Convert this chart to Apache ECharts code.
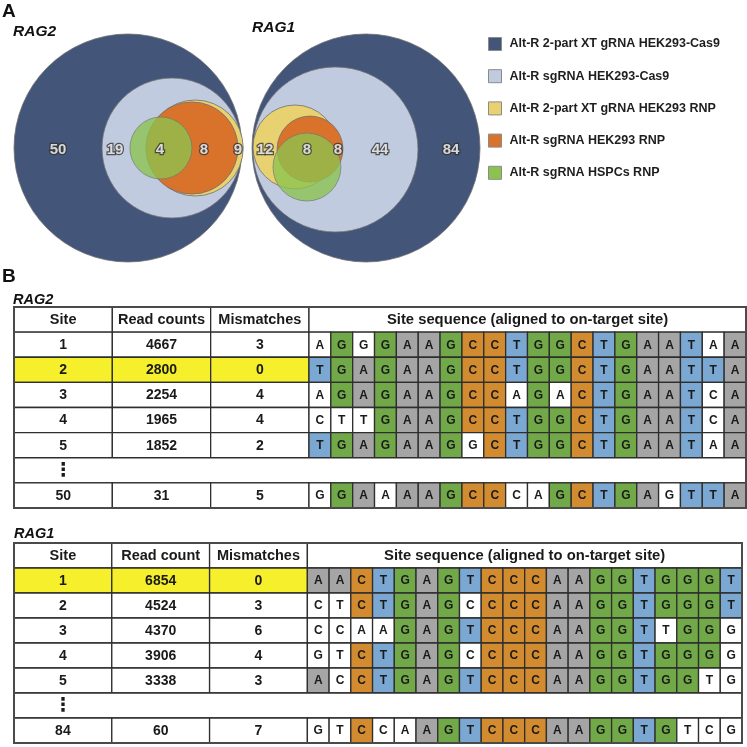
<!DOCTYPE html>
<html><head><meta charset="utf-8">
<script src="https://cdn.jsdelivr.net/npm/echarts@6/dist/echarts.min.js"></script>
<style>html,body{margin:0;padding:0;background:#fff}#c{width:747px;height:747px}</style>
</head><body><div id="c"></div>
<script>
// ---------- DATA ----------
const setNames = ['Alt-R 2-part XT gRNA HEK293-Cas9','Alt-R sgRNA HEK293-Cas9','Alt-R 2-part XT gRNA HEK293 RNP','Alt-R sgRNA HEK293 RNP','Alt-R sgRNA HSPCs RNP'];
const setColors = ['#435579','#c1cbdf','#e8d170','#d9732b','#8cc350'];
const vennGenes = ['RAG2','RAG1'];
const vennOffsets = [0, 2.088];
// circles per set [cx, cy, r] in units of outer-circle radius
const circlesRAG2 = [[0,0,1],[0.386,0,0.614],[0.59,0,0.421],[0.561,0,0.404],[0.289,0,0.272]];
const circlesRAG1 = [[0,0,1],[-0.268,0.013,0.724],[-0.623,-0.009,0.368],[-0.491,0.009,0.289],[-0.518,0.167,0.298]];
const regionCountsRAG2 = [50,19,4,8,9];
const regionXRAG2 = [-0.614,-0.114,0.281,0.667,0.965];
const regionCountsRAG1 = [12,8,8,44,84];
const regionXRAG1 = [-0.886,-0.518,-0.246,0.123,0.746];

const headersRAG2 = ['Site','Read counts','Mismatches','Site sequence (aligned to on-target site)'];
const rag2Sites = ['1','2','3','4','5','50'];
const rag2Reads = ['4667','2800','2254','1965','1852','31'];
const rag2Mism = ['3','0','4','4','2','5'];
const rag2Seqs = ['AGGGAAGCCTGGCTGAATAA','TGAGAAGCCTGGCTGAATTA','AGAGAAGCCAGACTGAATCA','CTTGAAGCCTGGCTGAATCA','TGAGAAGGCTGGCTGAATAA','GGAAAAGCCCAGCTGAGTTA'];
const rag2OnTarget = 1;

const headersRAG1 = ['Site','Read count','Mismatches','Site sequence (aligned to on-target site)'];
const rag1Sites = ['1','2','3','4','5','84'];
const rag1Reads = ['6854','4524','4370','3906','3338','60'];
const rag1Mism = ['0','3','6','4','3','7'];
const rag1Seqs = ['AACTGAGTCCCAAGGTGGGT','CTCTGAGCCCCAAGGTGGGT','CCAAGAGTCCCAAGGTTGGG','GTCTGAGCCCCAAGGTGGGG','ACCTGAGTCCCAAGGTGGTG','GTCCAAGTCCCAAGGTGTCG'];
const rag1OnTarget = 0;

const baseColors = {A:'#a5a5a5', G:'#72a948', C:'#d38b2f', T:'#7ba8d2'};
const FONT = '"Liberation Sans", Arial, Helvetica, sans-serif';

// ---------- VENN ----------
const vennCircles = [circlesRAG2, circlesRAG1];
const series = [];
setNames.forEach((name, si) => {
  series.push({
    type: 'custom', name: name, xAxisIndex: 0, yAxisIndex: 0,
    itemStyle: {color: setColors[si]},
    data: vennCircles.map((cs, vi) => [cs[si][0] + vennOffsets[vi], cs[si][1], cs[si][2]]),
    renderItem: function (params, api) {
      const c = api.coord([api.value(0), api.value(1)]);
      const s = api.size([api.value(2), api.value(2)]);
      return {type: 'circle', shape: {cx: c[0], cy: c[1], r: s[0]},
        style: {fill: setColors[si], stroke: '#6f6f6f', lineWidth: 0.8, opacity: si === 4 ? 0.78 : 1}};
    },
    silent: true, animation: false
  });
});
const labelData = [];
regionCountsRAG2.forEach((v, i) => labelData.push([regionXRAG2[i] + vennOffsets[0], 0.02, v]));
regionCountsRAG1.forEach((v, i) => labelData.push([regionXRAG1[i] + vennOffsets[1], 0.02, v]));
series.push({
  type: 'scatter', name: 'counts', xAxisIndex: 0, yAxisIndex: 0, symbolSize: 0, silent: true, animation: false,
  data: labelData, z: 10,
  label: {show: true, position: 'inside', formatter: p => String(p.value[2]), color: '#fff', fontWeight: 'bold',
    fontSize: 15, fontFamily: FONT, textBorderColor: '#333', textBorderWidth: 2.5}
});

// ---------- TABLES ----------
const colEdges = [0, 4.5, 9, 13.5]; // columns in sequence-cell units
function makeTable(gridIndex, headers, sites, reads, mism, seqs, onTarget) {
  const ref = seqs[onTarget];
  const rows = [[0, 0, 0]];
  for (let i = 0; i < 5; i++) rows.push([i + 1, 1, i]);
  rows.push([6, 2, 0]);
  rows.push([7, 1, 5]);
  rows.push([0, 3, 0]);
  return {
    type: 'custom', xAxisIndex: gridIndex, yAxisIndex: gridIndex, silent: true, animation: false,
    data: rows,
    renderItem: function (params, api) {
      const top = api.value(0), kind = api.value(1), idx = api.value(2);
      const children = [];
      const lineC = '#2e2e2e';
      const rect = (x0, x1, y0, y1, fill, lw, stroke) => {
        const p0 = api.coord([x0, y0]), p1 = api.coord([x1, y1]);
        return {type: 'rect', shape: {x: p0[0], y: p0[1], width: p1[0] - p0[0], height: p1[1] - p0[1]},
          style: {fill: fill, stroke: stroke || lineC, lineWidth: lw === undefined ? 1.3 : lw}};
      };
      const text = (x, y, t, size, extra) => {
        const p = api.coord([x, y]);
        return {type: 'text', x: p[0], y: p[1], style: Object.assign({text: t, fontSize: size, fontWeight: 'bold',
          fontFamily: FONT, fill: '#1a1a1a', align: 'center', verticalAlign: 'middle'}, extra || {})};
      };
      if (kind === 3) {
        children.push(rect(0, 33.5, 0, 8, 'none', 2, '#4a4a4a'));
        return {type: 'group', children: children};
      }
      const y0 = top, y1 = top + 1, ym = top + 0.52;
      if (kind === 0) {
        for (let c = 0; c < 3; c++) {
          children.push(rect(colEdges[c], colEdges[c + 1], y0, y1, '#fff'));
          children.push(text((colEdges[c] + colEdges[c + 1]) / 2, ym, headers[c], 14.5));
        }
        children.push(rect(13.5, 33.5, y0, y1, '#fff'));
        children.push(text(23.5, ym, headers[3], 14.8));
      } else if (kind === 2) {
        children.push(rect(0, 33.5, y0, y1, '#fff'));
        children.push(text(2.25, ym, '\u22EE', 19, {fontFamily: '"DejaVu Sans", sans-serif'}));
      } else {
        const hl = idx === onTarget ? '#f6ef2c' : '#fff';
        const vals = [sites[idx], reads[idx], mism[idx]];
        for (let c = 0; c < 3; c++) {
          children.push(rect(colEdges[c], colEdges[c + 1], y0, y1, hl));
          children.push(text((colEdges[c] + colEdges[c + 1]) / 2, ym, vals[c], 14));
        }
        const s = seqs[idx];
        for (let k = 0; k < s.length; k++) {
          const b = s[k];
          const fill = b === ref[k] ? baseColors[b] : '#fff';
          children.push(rect(13.5 + k, 14.5 + k, y0, y1, fill));
          children.push(text(14 + k, ym, b, 12));
        }
      }
      return {type: 'group', children: children};
    }
  };
}
series.push(makeTable(1, headersRAG2, rag2Sites, rag2Reads, rag2Mism, rag2Seqs, rag2OnTarget));
series.push(makeTable(2, headersRAG1, rag1Sites, rag1Reads, rag1Mism, rag1Seqs, rag1OnTarget));

const hiddenAxis = (min, max, gi, inv) => ({type: 'value', min: min, max: max, gridIndex: gi, inverse: !!inv, show: false});

const option = {
  backgroundColor: '#fff',
  animation: false,
  title: [
    {text: 'A', left: 2, top: 2, textStyle: {fontSize: 19, fontWeight: 'bold', fontFamily: FONT, color: '#111'}},
    {text: vennGenes[0], left: 13, top: 24, textStyle: {fontSize: 15.5, fontWeight: 'bold', fontStyle: 'italic', fontFamily: FONT, color: '#111'}},
    {text: vennGenes[1], left: 252, top: 20, textStyle: {fontSize: 15.5, fontWeight: 'bold', fontStyle: 'italic', fontFamily: FONT, color: '#111'}},
    {text: 'B', left: 2, top: 267, textStyle: {fontSize: 19, fontWeight: 'bold', fontFamily: FONT, color: '#111'}},
    {text: 'RAG2', left: 13, top: 292, textStyle: {fontSize: 14.5, fontWeight: 'bold', fontStyle: 'italic', fontFamily: FONT, color: '#111'}},
    {text: 'RAG1', left: 14, top: 526, textStyle: {fontSize: 14.5, fontWeight: 'bold', fontStyle: 'italic', fontFamily: FONT, color: '#111'}}
  ].map(t => Object.assign({padding: 0}, t)),
  legend: {
    data: setNames.map((n, i) => ({name: n, icon: 'rect', itemStyle: {color: setColors[i], borderColor: '#8a8a8a', borderWidth: 1}})),
    orient: 'vertical', left: 488, top: 37, itemWidth: 13, itemHeight: 13, itemGap: 18.2, selectedMode: false,
    padding: 0,
    textStyle: {fontSize: 12.5, fontWeight: 'bold', color: '#1e1e1e', fontFamily: FONT, padding: [0, 0, 0, 3]}
  },
  grid: [
    {left: 14, top: 34, width: 466, height: 228},
    {left: 14, top: 307, width: 732, height: 201},
    {left: 14, top: 543, width: 728, height: 200}
  ],
  xAxis: [hiddenAxis(-1, 3.088, 0), hiddenAxis(0, 33.5, 1), hiddenAxis(0, 33.5, 2)],
  yAxis: [hiddenAxis(-1, 1, 0, true), hiddenAxis(0, 8, 1, true), hiddenAxis(0, 8, 2, true)],
  series: series
};
const chart = echarts.init(document.getElementById('c'), null, {renderer: 'canvas'});
chart.setOption(option);
</script>
</body></html>
